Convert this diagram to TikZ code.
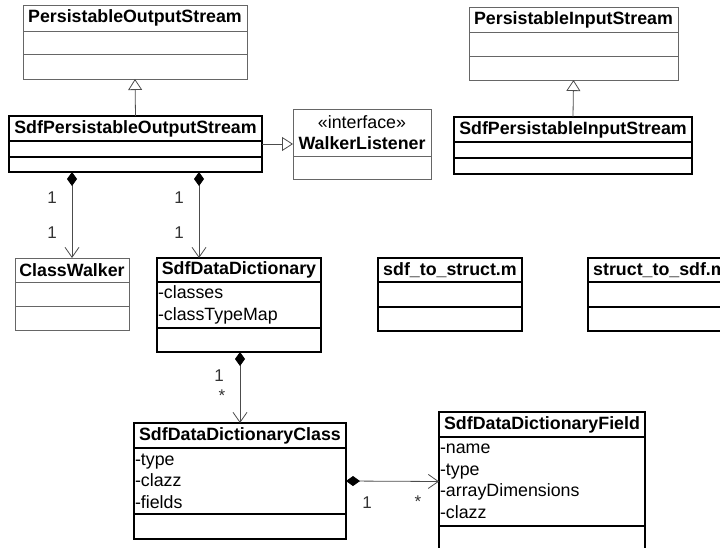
\documentclass[tikz,border=0pt]{standalone}
\usepackage{fontspec}
\setmainfont{Liberation Sans}
\usetikzlibrary{positioning, arrows.meta}

\begin{document}
\begin{tikzpicture}[x=1pt, y=-1pt,
  box/.style={draw=black, line width=1.5pt, outer sep=0pt, inner sep=1pt, font=\fontsize{17.8}{21.5}\selectfont},
  lbox/.style={box, draw=black!60, line width=0.9pt},
  head/.style={font=\fontsize{17.8}{21.5}\selectfont\bfseries},
  attrs/.style={align=left, text width=#1},
  gen/.style={draw=black!70, line width=0.8pt, -{Triangle[open, width=14pt, length=11pt]}},
  comp/.style={draw=black!70, line width=0.8pt, {Diamond[width=10pt, length=14pt, color=black, fill=black]}-{Straight Barb[width=14pt, length=10pt]}},
  mult/.style={text=black!80, font=\fontsize{17}{20}\selectfont, inner sep=0pt}]
  \useasboundingbox (0,0) rectangle (720,548);
  \clip (0,0) rectangle (720,548);

  % output side
  \node[lbox, head, minimum width=224pt, minimum height=26pt, anchor=north west] (pos) at (23,5) {PersistableOutputStream};
  \node[lbox, minimum width=224pt, minimum height=23pt, below=0pt of pos] (pos-a) {};
  \node[lbox, minimum width=224pt, minimum height=25pt, below=0pt of pos-a] (pos-o) {};

  \node[box, head, minimum width=253pt, minimum height=25pt, anchor=north west] (sdfpos) at (9,116) {SdfPersistableOutputStream};
  \node[box, minimum width=253pt, minimum height=16pt, below=0pt of sdfpos] (sdfpos-a) {};
  \node[box, minimum width=253pt, minimum height=15pt, below=0pt of sdfpos-a] (sdfpos-o) {};

  \node[lbox, head, align=center, minimum width=138pt, minimum height=47pt, anchor=north west] (wl) at (293,109) {{\mdseries «interface»}\\WalkerListener};
  \node[lbox, minimum width=138pt, minimum height=23pt, below=0pt of wl] (wl-o) {};

  % input side
  \node[lbox, head, minimum width=209pt, minimum height=25pt, anchor=north west] (pis) at (469,7) {PersistableInputStream};
  \node[lbox, minimum width=209pt, minimum height=24pt, below=0pt of pis] (pis-a) {};
  \node[lbox, minimum width=209pt, minimum height=24pt, below=0pt of pis-a] (pis-o) {};

  \node[box, head, minimum width=238pt, minimum height=25pt, anchor=north west] (sdfpis) at (454,117) {SdfPersistableInputStream};
  \node[box, minimum width=238pt, minimum height=16pt, below=0pt of sdfpis] (sdfpis-a) {};
  \node[box, minimum width=238pt, minimum height=16pt, below=0pt of sdfpis-a] (sdfpis-o) {};

  % helpers
  \node[lbox, head, minimum width=114pt, minimum height=24pt, anchor=north west] (cw) at (15,258) {ClassWalker};
  \node[lbox, minimum width=114pt, minimum height=24pt, below=0pt of cw] (cw-a) {};
  \node[lbox, minimum width=114pt, minimum height=24pt, below=0pt of cw-a] (cw-o) {};

  \node[box, head, minimum width=164pt, minimum height=24pt, anchor=north west] (dd) at (157,258) {SdfDataDictionary};
  \node[box, attrs=162pt, minimum height=46pt, below=0pt of dd] (dd-a) {-classes\\-classTypeMap};
  \node[box, minimum width=164pt, minimum height=24pt, below=0pt of dd-a] (dd-o) {};

  \node[box, head, minimum width=144pt, minimum height=24pt, anchor=north west] (tostruct) at (378,258) {sdf\_to\_struct.m};
  \node[box, minimum width=144pt, minimum height=25pt, below=0pt of tostruct] (tostruct-a) {};
  \node[box, minimum width=144pt, minimum height=24pt, below=0pt of tostruct-a] (tostruct-o) {};

  \node[box, head, minimum width=144pt, minimum height=24pt, anchor=north west] (tosdf) at (588,258) {struct\_to\_sdf.m};
  \node[box, minimum width=144pt, minimum height=25pt, below=0pt of tosdf] (tosdf-a) {};
  \node[box, minimum width=144pt, minimum height=24pt, below=0pt of tosdf-a] (tosdf-o) {};

  % dictionary contents
  \node[box, head, minimum width=212pt, minimum height=25pt, anchor=north west] (ddc) at (134,423) {SdfDataDictionaryClass};
  \node[box, attrs=210pt, minimum height=66pt, below=0pt of ddc] (ddc-a) {-type\\-clazz\\-fields};
  \node[box, minimum width=212pt, minimum height=25pt, below=0pt of ddc-a] (ddc-o) {};

  \node[box, head, minimum width=206pt, minimum height=25pt, anchor=north west] (ddf) at (439,412) {SdfDataDictionaryField};
  \node[box, attrs=204pt, minimum height=89pt, below=0pt of ddf] (ddf-a) {-name\\-type\\-arrayDimensions\\-clazz};
  \node[box, minimum width=206pt, minimum height=25pt, below=0pt of ddf-a] (ddf-o) {};

  \coordinate (wl-in) at (wl.west |- 0,144);
  \coordinate (dd-in) at (199,258);

  \draw[gen] (sdfpos.north) -- (pos-o.south);
  \draw[gen] (sdfpis.north) -- (pis-o.south);
  \draw[gen] (sdfpos.east |- wl-in) -- (wl-in);
  \draw[comp] (sdfpos-o.south -| cw.north) -- (cw.north);
  \draw[comp] (sdfpos-o.south -| dd-in) -- (dd-in);
  \draw[comp] (dd-o.south -| ddc.north) -- (ddc.north);
  \draw[comp] (ddc-a.east) -- (ddf-a.west);

  \node[mult] (m1) at (52,198) {1};
  \node[mult] (m2) at (52,233) {1};
  \node[mult] (m3) at (179,198) {1};
  \node[mult] (m4) at (179,233) {1};
  \node[mult] (m5) at (219,376) {1};
  \node[mult] (m6) at (222,396) {*};
  \node[mult] (m7) at (367,503) {1};
  \node[mult] (m8) at (418,502) {*};
\end{tikzpicture}
\end{document}
